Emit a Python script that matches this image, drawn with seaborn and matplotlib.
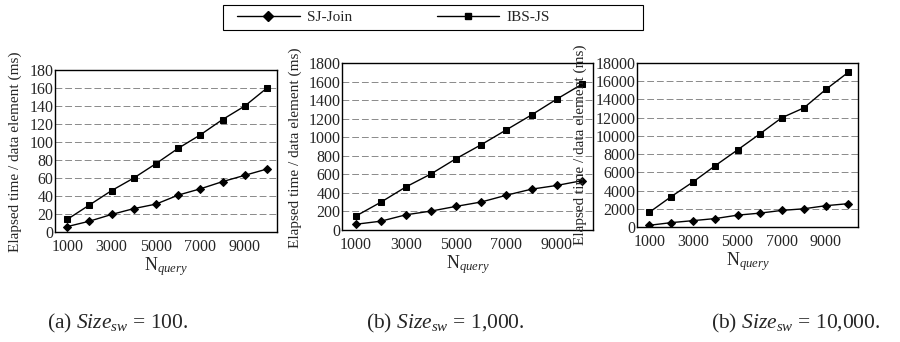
import matplotlib
matplotlib.use("Agg")
import matplotlib.pyplot as plt
import seaborn as sns
import pandas as pd
from matplotlib.lines import Line2D
from matplotlib.patches import Rectangle

n_query = [1000, 2000, 3000, 4000, 5000, 6000, 7000, 8000, 9000, 10000]

sj_100 = [6, 12, 19.5, 26, 31, 41, 48, 56, 63, 70]
ibs_100 = [14, 30, 46, 60, 76, 93, 108, 125, 140, 160]

sj_1000 = [62, 95, 164, 204, 255, 302, 375, 440, 480, 531]
ibs_1000 = [150, 300, 465, 605, 770, 920, 1080, 1240, 1410, 1570]

sj_10000 = [185, 480, 700, 930, 1300, 1520, 1820, 2000, 2340, 2560]
ibs_10000 = [1600, 3340, 4970, 6750, 8460, 10200, 11990, 13070, 15110, 16960]

series_names = ["SJ-Join", "IBS-JS"]
xtick_labels = [1000, 3000, 5000, 7000, 9000]
ylims = [180, 1800, 18000]
ysteps = [20, 200, 2000]
captions = [r"(a) $\mathit{Size}_{sw}$ = 100.",
            r"(b) $\mathit{Size}_{sw}$ = 1,000.",
            r"(b) $\mathit{Size}_{sw}$ = 10,000."]

sns.set_style("white")
plt.rcParams['font.family'] = ['Liberation Serif', 'DejaVu Serif']
plt.rcParams['mathtext.fontset'] = 'custom'
plt.rcParams['mathtext.rm'] = 'Liberation Serif'
plt.rcParams['mathtext.it'] = 'Liberation Serif:italic'

W, H = 900, 342
fig = plt.figure(figsize=(9, 3.42), dpi=100)

def box(x0, y0, x1, y1):
    return [x0 / W, 1 - y1 / H, (x1 - x0) / W, (y1 - y0) / H]

positions = [box(55, 70, 277, 232), box(342, 63, 593, 230), box(637, 63, 858, 227)]
data_sets = [(sj_100, ibs_100), (sj_1000, ibs_1000), (sj_10000, ibs_10000)]
ylabel_xy = [(15, 152), (295, 148), (580, 145)]
caption_x = [118, 445, 796]

for i, (pos, (sj, ibs)) in enumerate(zip(positions, data_sets)):
    ax = fig.add_axes(pos)
    df = pd.DataFrame({
        "N": n_query * 2,
        "t": sj + ibs,
        "alg": [series_names[0]] * len(sj) + [series_names[1]] * len(ibs),
    })
    sns.lineplot(data=df, x="N", y="t", hue="alg", style="alg",
                 palette=["black", "black"], markers={"SJ-Join": "D", "IBS-JS": "s"},
                 dashes=False, markersize=4.5, linewidth=1.0, ax=ax, legend=False,
                 markeredgecolor="black")
    ax.set_xlim(450, 10450)
    ax.set_ylim(0, ylims[i])
    ax.set_yticks(list(range(0, ylims[i] + 1, ysteps[i])))
    ax.set_xticks(xtick_labels)
    ax.tick_params(axis="both", length=0, labelsize=11.5)
    ax.tick_params(axis="y", pad=1)
    ax.tick_params(axis="x", pad=5)
    ax.yaxis.grid(True, color="#8a8a8a", linestyle=(0, (7, 3)), linewidth=0.7)
    ax.set_axisbelow(True)
    for s in ax.spines.values():
        s.set_color("black")
        s.set_linewidth(1.0)
    ax.set_xlabel(r"$\mathrm{N}_{query}$", fontsize=13, labelpad=0)
    ax.set_ylabel("")
    fig.text(ylabel_xy[i][0] / W, 1 - ylabel_xy[i][1] / H, "Elapsed time / data element (ms)",
             rotation=90, ha="center", va="center", fontsize=11)
    fig.text(caption_x[i] / W, 1 - 323 / H, captions[i], ha="center", va="center",
             fontsize=15.5)

fig.patches.append(Rectangle((223 / W, 1 - 30 / H), 420 / W, 25 / H,
                             transform=fig.transFigure, fill=False,
                             edgecolor="black", linewidth=0.8))
handles = [Line2D([], [], color="black", marker="D", markersize=5, lw=1.0),
           Line2D([], [], color="black", marker="s", markersize=5, lw=1.0)]
leg = fig.legend(handles, series_names, loc="center left",
                 bbox_to_anchor=(237 / W, 1 - 17 / H),
                 ncol=2, frameon=False, handlelength=4.1,
                 columnspacing=5.5, fontsize=11, borderpad=0, borderaxespad=0,
                 handletextpad=0.5)

fig.savefig("out.png", dpi=100)
